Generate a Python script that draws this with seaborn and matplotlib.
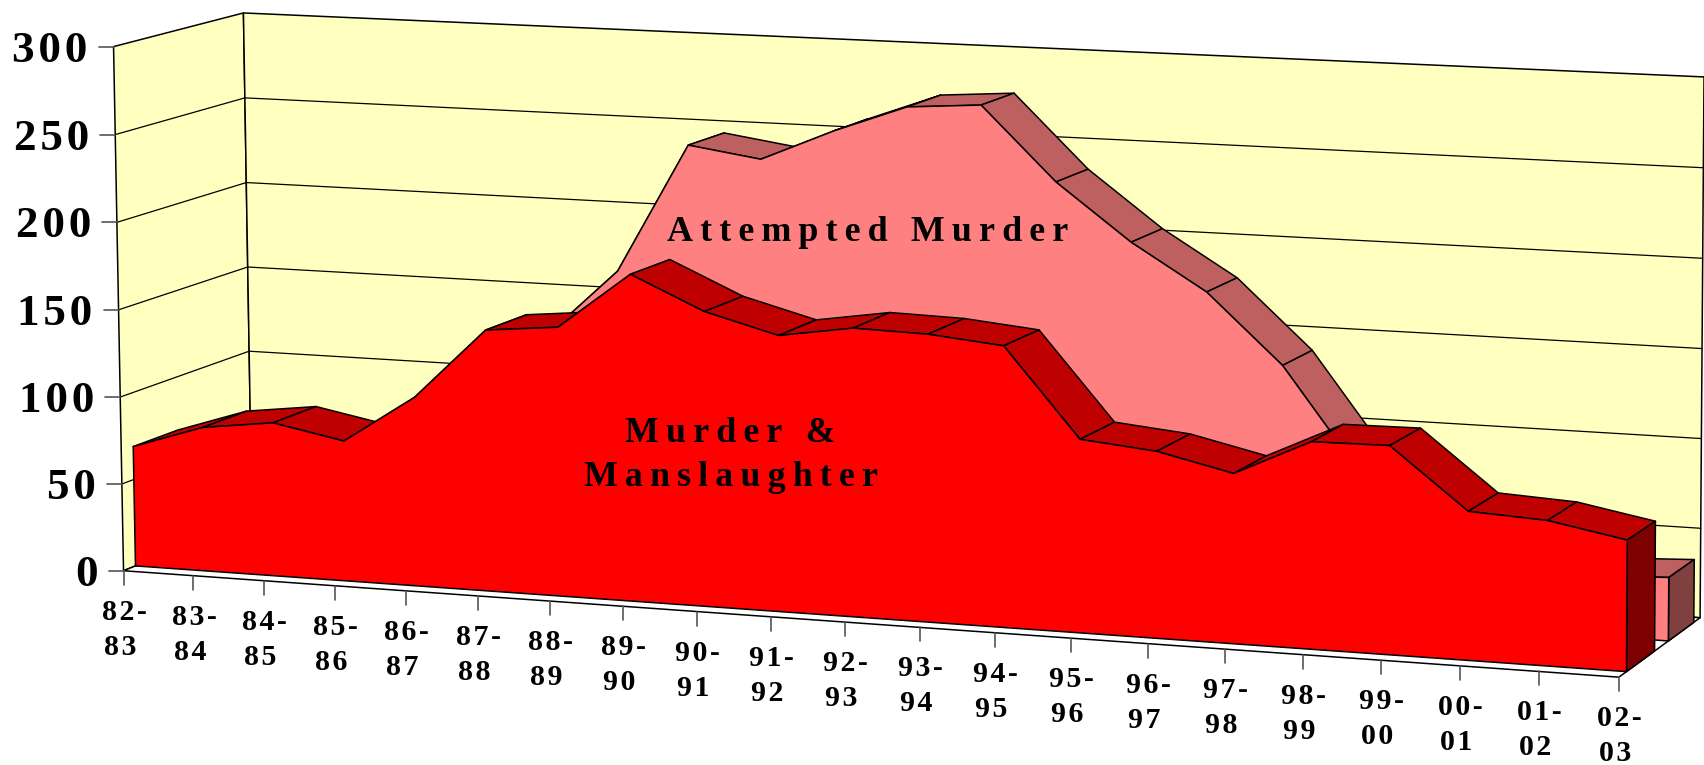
import numpy as np
import pandas as pd
import matplotlib
matplotlib.use("Agg")
import matplotlib.pyplot as plt
import seaborn as sns

# data
seasons = ["82-83", "83-84", "84-85", "85-86", "86-87", "87-88", "88-89",
           "89-90", "90-91", "91-92", "92-93", "93-94", "94-95", "95-96",
           "96-97", "97-98", "98-99", "99-00", "00-01", "01-02", "02-03"]
murder = [69, 82.6, 87.8, 80, 107.5, 148, 152, 184, 165.5, 154.5, 161,
          160, 156, 107, 103, 93.5, 113.5, 114, 81, 78.8, 71]
attempted = [40, 45, 50, 60, 80, 132, 171, 245, 239, 257, 272.5, 275.5, 234.5,
             203, 177.5, 139, 83, 60, 50, 33, 35]
y_ticks = [0, 50, 100, 150, 200, 250, 300]

WALL = "#FFFFC0"
THIN = "\u2009"
HAIR = "\u200a"

# where the box corners of the 3d chart land on screen: (season, depth, value) -> pixel
world_pts = [(0, 0, 0), (0, 0, 300), (0, 1, 0), (0, 1, 300), (20, 0, 0), (20, 1, 0),
             (20, 1, 300), (10, 0, 0), (5, 0, 0)]
screen_pts = [(123.5, 570), (113.5, 47), (252, 520), (243.5, 12.5), (1619, 678), (1700, 617),
              (1704, 77), (845, 622), (478, 595.6)]


def fit_camera(world, screen):
    rows = []
    for (a, b, c), (u, v) in zip(world, screen):
        p = [a / 20, b, c / 300, 1]
        rows.append(p + [0, 0, 0, 0] + [-u * k for k in p])
        rows.append([0, 0, 0, 0] + p + [-v * k for k in p])
    vt = np.linalg.svd(np.array(rows))[2]
    return vt[-1].reshape(3, 4)


cam = fit_camera(world_pts, screen_pts)


def proj(i, d, val):
    h = cam @ np.array([i / 20, d, val / 300, 1])
    return h[0] / h[2], h[1] / h[2]


zo = [10]


def poly(pts, color, lw=1.1):
    zo[0] += 1
    xs, ys = zip(*pts)
    ax.fill(xs, ys, facecolor=color, edgecolor="black", linewidth=lw, joinstyle="round", zorder=zo[0])


def line(p0, p1, color="black", lw=1.0):
    zo[0] += 1
    df = pd.DataFrame({"x": [p0[0], p1[0]], "y": [p0[1], p1[1]]})
    sns.lineplot(data=df, x="x", y="y", sort=False, estimator=None, color=color, linewidth=lw,
                 legend=False, ax=ax, zorder=zo[0])


def area3d(vals, d0, d1, front, top, side):
    n = len(vals)
    for i in range(n - 1):
        poly([proj(i, d0, vals[i]), proj(i + 1, d0, vals[i + 1]),
              proj(i + 1, d1, vals[i + 1]), proj(i, d1, vals[i])], top)
    poly([proj(n - 1, d0, 0), proj(n - 1, d1, 0), proj(n - 1, d1, vals[-1]), proj(n - 1, d0, vals[-1])], side)
    outline = [proj(i, d0, vals[i]) for i in range(n)]
    poly(outline + [proj(n - 1, d0, 0), proj(0, d0, 0)], front)


sns.set_theme(style="white")
plt.rcParams["font.family"] = ["Liberation Serif", "DejaVu Serif"]
plt.rcParams["font.weight"] = "bold"

fig = plt.figure(figsize=(17.04, 7.65), dpi=100)
ax = fig.add_axes([0, 0, 1, 1])

# walls and floor
poly([proj(0, 0, 0), proj(0, 1, 0), proj(0, 1, 300), proj(0, 0, 300)], WALL)
poly([proj(0, 1, 0), proj(20, 1, 0), proj(20, 1, 300), proj(0, 1, 300)], WALL)
poly([proj(0, 0, 0), proj(20, 0, 0), proj(20, 1, 0), proj(0, 1, 0)], "white")
for v in y_ticks[1:-1]:
    line(proj(0, 0, v), proj(0, 1, v), lw=0.9)
    line(proj(0, 1, v), proj(20, 1, v), lw=0.9)

area3d(attempted, 0.60, 0.92, "#FF8080", "#BF6060", "#804040")
area3d(murder, 0.09, 0.43, "#FF0000", "#BF0000", "#7F0000")

# value axis
for v in y_ticks:
    x0, y0 = proj(0, 0, v)
    line((x0 - 15, y0), (x0, y0), color="#555555", lw=1.2)
    ax.text(x0 - 26, y0 + 4, HAIR.join(str(v)), fontsize=32.5, ha="right", va="center", color="black",
            fontweight="bold", zorder=500)

# season axis
for i, s in enumerate(seasons):
    x0, y0 = proj(i, 0, 0)
    line((x0, y0), (x0, y0 + 14), color="#555555", lw=1.2)
    top_part, bottom_part = s.split("-")
    lab = HAIR.join(top_part) + HAIR + "-\n" + HAIR.join(bottom_part) + THIN + HAIR
    ax.text(x0 + 0.5, y0 + 59, lab, fontsize=21.5, ha="center", va="center", color="black",
            fontweight="bold", linespacing=1.38, zorder=500)

# series names sit inside the areas
ax.text(868, 232, THIN.join("Attempted Murder"), fontsize=25.8, ha="center", va="center",
        fontweight="bold", color="black", zorder=500)
ax.text(730, 433, THIN.join("Murder &"), fontsize=25.8, ha="center", va="center",
        fontweight="bold", color="black", zorder=500)
ax.text(731, 477, THIN.join("Manslaughter"), fontsize=25.8, ha="center", va="center",
        fontweight="bold", color="black", zorder=500)

ax.set_xlim(0, 1704)
ax.set_ylim(765, 0)
ax.axis("off")
fig.savefig("out.png", dpi=100, facecolor="white")
